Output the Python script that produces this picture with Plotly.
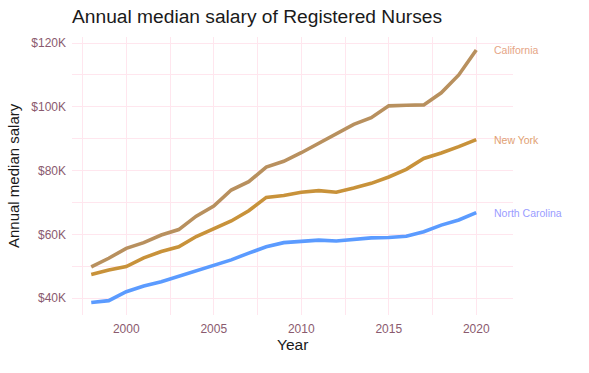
import plotly.graph_objects as go

years = list(range(1998, 2021))
california = [49.8, 52.5, 55.6, 57.4, 59.8, 61.5, 65.7, 68.9, 73.9, 76.5, 81.1, 82.9, 85.6,
              88.5, 91.5, 94.5, 96.6, 100.3, 100.5, 100.6, 104.4, 110.0, 117.8]
new_york = [47.4, 48.8, 49.9, 52.6, 54.6, 56.1, 59.3, 61.6, 64.2, 67.4, 71.6, 72.2, 73.2,
            73.7, 73.2, 74.5, 76.0, 78.0, 80.4, 83.8, 85.5, 87.5, 89.7]
north_carolina = [38.6, 39.2, 42.0, 43.8, 45.1, 46.9, 48.6, 50.4, 52.0, 54.1, 56.1, 57.4, 57.9,
                  58.2, 57.9, 58.4, 58.9, 59.0, 59.4, 60.8, 62.9, 64.5, 66.8]
states = ["California", "New York", "North Carolina"]
line_colors = ["#B8905E", "#C8923A", "#5B9BFF"]
label_colors = ["#E6A585", "#DFA173", "#9A9CFF"]
y_ticks = [40, 60, 80, 100, 120]
y_tick_labels = ["$40K", "$60K", "$80K", "$100K", "$120K"]
x_ticks = [2000, 2005, 2010, 2015, 2020]

fig = go.Figure()
for name, vals, lc, tc in zip(states, [california, new_york, north_carolina], line_colors, label_colors):
    fig.add_trace(go.Scatter(x=years, y=[v * 1000 for v in vals], mode="lines", name=name,
                             line=dict(color=lc, width=3.6), showlegend=False))
    fig.add_annotation(x=2020.9, y=vals[-1] * 1000, text=name, showarrow=False, xanchor="left",
                       yanchor="middle", font=dict(color=tc, size=10.5))

# axis titles as annotations for exact placement
fig.add_annotation(text="Year", xref="paper", yref="paper", x=0.5, y=-29 / 278,
                   xanchor="center", yanchor="middle", showarrow=False,
                   font=dict(size=15.5, color="#1a1a1a"))
fig.add_annotation(text="Annual median salary", xref="paper", yref="paper", x=-59 / 441, y=0.5,
                   xanchor="center", yanchor="middle", showarrow=False, textangle=-90,
                   font=dict(size=15, color="#1a1a1a"))

grid = "#FFE6EE"
fig.update_layout(
    width=589, height=373,
    margin=dict(l=72, r=76, t=37, b=58),
    paper_bgcolor="white", plot_bgcolor="white",
    font=dict(family="Liberation Sans, Arial, sans-serif"),
    title=dict(text="Annual median salary of Registered Nurses", x=0, xref="paper",
               xanchor="left", y=0.974, yanchor="top",
               font=dict(size=19.2, color="#1a1a1a")),
)
fig.update_xaxes(range=[1996.9, 2022.1], tickvals=x_ticks, ticks="", showline=False,
                 zeroline=False, gridcolor=grid, gridwidth=1.4, automargin=False,
                 tickfont=dict(size=12, color="#8A5A6E"), ticklabelstandoff=5,
                 minor=dict(dtick=5, tick0=1997.5, showgrid=True, gridcolor=grid, gridwidth=0.8))
fig.update_yaxes(range=[34700, 121900], tickvals=[v * 1000 for v in y_ticks], ticktext=y_tick_labels,
                 ticks="", showline=False, zeroline=False, gridcolor=grid, gridwidth=1.4, automargin=False,
                 tickfont=dict(size=12, color="#8A5A6E"), ticklabelstandoff=5,
                 minor=dict(dtick=20000, tick0=30000, showgrid=True, gridcolor=grid, gridwidth=0.8))

fig.write_html("out.html", config={"displayModeBar": False},
               post_script="document.body.style.margin='0';")
